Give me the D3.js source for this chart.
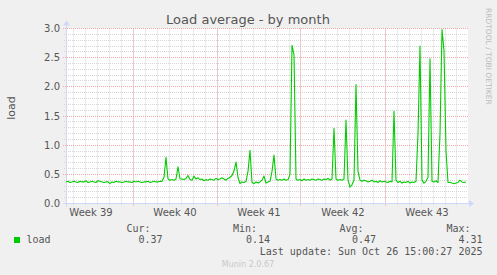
<!DOCTYPE html>
<html>
<head>
<meta charset="utf-8">
<script src="https://cdn.jsdelivr.net/npm/d3@7"></script>
<style>
  body { margin: 0; background: #f0f0f0; }
  svg { display: block; font-family: "DejaVu Sans", sans-serif; }
  .mono { font-family: "DejaVu Sans Mono", monospace; }
</style>
</head>
<body>
<svg></svg>
<script>
// chart data
const title = 'Load average - by month'
const yLabel = 'load'
const yTicks = [0.0, 0.5, 1.0, 1.5, 2.0, 2.5, 3.0]
const weekLabels = ['Week 39', 'Week 40', 'Week 41', 'Week 42', 'Week 43']
const weekStarts = ['2025-09-22', '2025-09-29', '2025-10-06', '2025-10-13', '2025-10-20']
const timeStart = new Date('2025-09-23T10:00:00Z')
const timeEnd = new Date('2025-10-26T22:00:00Z')
const sampleHours = 4

// load average, one value every 4 hours
const loadValues = [
  0.37, 0.38, 0.36, 0.37, 0.38, 0.37, 0.36, 0.38, 0.37, 0.37,
  0.39, 0.36, 0.37, 0.38, 0.37, 0.36, 0.39, 0.38, 0.37, 0.36,
  0.37, 0.37, 0.34, 0.37, 0.36, 0.38, 0.37, 0.37, 0.36, 0.37,
  0.38, 0.37, 0.37, 0.36, 0.38, 0.37, 0.38, 0.37, 0.36, 0.37,
  0.37, 0.38, 0.36, 0.37, 0.38, 0.37, 0.37, 0.38, 0.38,
  0.45, 0.79, 0.42, 0.40, 0.41, 0.40, 0.42, 0.63, 0.42, 0.42,
  0.41, 0.43, 0.48, 0.41, 0.40, 0.47, 0.42, 0.44, 0.41, 0.42,
  0.39, 0.41, 0.40, 0.42, 0.41, 0.40, 0.43, 0.41, 0.42, 0.44,
  0.42, 0.40, 0.43, 0.45, 0.48, 0.56, 0.71, 0.45, 0.34, 0.37,
  0.36, 0.38, 0.55, 0.91, 0.36, 0.34, 0.37, 0.35, 0.37, 0.40,
  0.47, 0.35, 0.37, 0.38, 0.55, 0.83, 0.42, 0.40, 0.41, 0.40,
  0.42, 0.40, 0.41, 0.50, 2.71, 2.55, 0.42, 0.40, 0.41, 0.39,
  0.42, 0.40, 0.41, 0.40, 0.42, 0.41, 0.40, 0.42, 0.41, 0.40,
  0.42, 0.41, 0.43, 0.40, 0.42, 1.29, 0.42, 0.40, 0.41, 0.40,
  0.42, 1.43, 0.40, 0.28, 0.32, 0.40, 2.04, 0.55, 0.40, 0.38,
  0.40, 0.39, 0.37, 0.38, 0.40, 0.37, 0.38, 0.36, 0.39, 0.37,
  0.38, 0.37, 0.36, 0.38, 0.37, 1.58, 0.40, 0.36, 0.38, 0.35,
  0.37, 0.36, 0.38, 0.35, 0.37, 0.36, 0.38, 1.20, 2.70, 0.40,
  0.35, 0.38, 0.45, 2.48, 0.38, 0.37, 0.39, 0.36, 1.20, 2.98,
  2.62, 0.90, 0.36, 0.36, 0.35, 0.34, 0.35, 0.36, 0.40, 0.37,
  0.36, 0.37
]

const legendName = 'load'
const legendHeads = ['Cur:', 'Min:', 'Avg:', 'Max:']
const legendValues = ['0.37', '0.14', '0.47', '4.31']
const lastUpdate = 'Last update: Sun Oct 26 15:00:27 2025'
const footer = 'Munin 2.0.67'
const sideText = 'RRDTOOL / TOBI OETIKER'

// layout
const width = 497
const height = 275
const plotLeft = 66
const plotRight = 468
const plotTop = 28.5
const plotBottom = 203.5

const lineColor = '#00cc00'
const axisColor = '#cfd6f8'
const gridColor = '#d6d6d6'
const majorColor = '#f0a8a8'
const textColor = '#555'

let svg = d3.select('svg').attr('width', width).attr('height', height)

let xScale = d3.scaleUtc().domain([timeStart, timeEnd]).range([plotLeft, plotRight])
let yScale = d3.scaleLinear().domain([0, 3]).range([plotBottom, plotTop])

let data = loadValues.map((v, i) => ({
    time: new Date(timeStart.getTime() + i * sampleHours * 3600 * 1000),
    value: v
}))

function crisp(x) {
    return Math.round(x - 0.5) + 0.5
}

function drawCanvas() {
    svg.append('rect')
        .attr('x', plotLeft)
        .attr('y', plotTop)
        .attr('width', plotRight - plotLeft)
        .attr('height', plotBottom - plotTop)
        .attr('fill', '#fff')
}

function drawGrid() {
    let g = svg.append('g')

    // minor horizontal lines every 0.1
    let minorY = d3.range(1, 30).filter(k => k % 5 !== 0).map(k => k / 10)
    g.selectAll('.hminor')
        .data(minorY)
        .enter()
        .append('line')
        .attr('x1', plotLeft - 2).attr('x2', plotRight)
        .attr('y1', d => crisp(yScale(d))).attr('y2', d => crisp(yScale(d)))
        .attr('stroke', gridColor)
        .attr('stroke-dasharray', '1,1')

    // minor vertical lines, one per day
    let days = d3.utcDay.range(timeStart, timeEnd)
    g.selectAll('.vminor')
        .data(days)
        .enter()
        .append('line')
        .attr('x1', d => crisp(xScale(d))).attr('x2', d => crisp(xScale(d)))
        .attr('y1', plotTop).attr('y2', plotBottom + 2)
        .attr('stroke', gridColor)
        .attr('stroke-dasharray', '1,1')

    // major lines
    g.selectAll('.hmajor')
        .data(yTicks.filter(d => d > 0))
        .enter()
        .append('line')
        .attr('x1', plotLeft - 3).attr('x2', plotRight)
        .attr('y1', d => crisp(yScale(d))).attr('y2', d => crisp(yScale(d)))
        .attr('stroke', majorColor)
        .attr('stroke-dasharray', '1,1')

    let mondays = d3.utcMonday.range(timeStart, timeEnd)
    g.selectAll('.vmajor')
        .data(mondays)
        .enter()
        .append('line')
        .attr('x1', d => crisp(xScale(d))).attr('x2', d => crisp(xScale(d)))
        .attr('y1', plotTop).attr('y2', plotBottom + 3)
        .attr('stroke', majorColor)
        .attr('stroke-dasharray', '1,1')
}

function drawAxes() {
    let g = svg.append('g')

    g.append('line')
        .attr('x1', plotLeft - 3).attr('x2', plotRight + 1)
        .attr('y1', plotBottom).attr('y2', plotBottom)
        .attr('stroke', axisColor)
    g.append('path')
        .attr('d', `M${plotRight + 1},${plotBottom - 3.5} L${plotRight + 6},${plotBottom} L${plotRight + 1},${plotBottom + 3.5} Z`)
        .attr('fill', axisColor)

    g.append('line')
        .attr('x1', plotLeft + 0.5).attr('x2', plotLeft + 0.5)
        .attr('y1', plotBottom + 3).attr('y2', plotTop - 3)
        .attr('stroke', axisColor)
    g.append('path')
        .attr('d', `M${plotLeft - 3},${plotTop - 3} L${plotLeft + 0.5},${plotTop - 8} L${plotLeft + 4},${plotTop - 3} Z`)
        .attr('fill', axisColor)

    // y tick labels
    g.selectAll('.ylab')
        .data(yTicks)
        .enter()
        .append('text')
        .attr('x', 60)
        .attr('y', d => yScale(d) + 3.5)
        .attr('text-anchor', 'end')
        .attr('font-size', 10)
        .attr('fill', textColor)
        .text(d => d3.format('.1f')(d))

    // week labels, centred in their week
    g.selectAll('.xlab')
        .data(weekLabels)
        .enter()
        .append('text')
        .attr('x', (d, i) => xScale(d3.utcHour.offset(new Date(weekStarts[i] + 'T00:00:00Z'), 84)))
        .attr('y', 216)
        .attr('text-anchor', 'middle')
        .attr('font-size', 10)
        .attr('fill', textColor)
        .text(d => d)
}

function drawLine() {
    let line = d3.line()
        .x(d => xScale(d.time))
        .y(d => yScale(d.value))

    svg.append('path')
        .datum(data)
        .attr('d', line)
        .attr('fill', 'none')
        .attr('stroke', lineColor)
        .attr('stroke-width', 1.1)
        .attr('stroke-linejoin', 'round')
}

function drawTexts() {
    svg.append('text')
        .attr('x', 248).attr('y', 24)
        .attr('text-anchor', 'middle')
        .attr('font-size', 13)
        .attr('fill', textColor)
        .text(title)

    svg.append('text')
        .attr('transform', 'translate(15,108) rotate(-90)')
        .attr('text-anchor', 'middle')
        .attr('font-size', 11)
        .attr('fill', textColor)
        .text(yLabel)

    svg.append('text')
        .attr('transform', 'translate(486,8) rotate(90)')
        .attr('font-size', 7.5)
        .attr('fill', '#bbb')
        .text(sideText)

    // legend
    svg.append('rect')
        .attr('x', 14).attr('y', 237)
        .attr('width', 6).attr('height', 6)
        .attr('fill', lineColor)

    svg.append('text')
        .attr('class', 'mono')
        .attr('x', 26.5).attr('y', 243)
        .attr('font-size', 10)
        .attr('fill', textColor)
        .text(legendName)

    let headEnds = [150.5, 257, 363.5, 470.5]
    let valueEnds = [162.5, 270, 376, 482.5]
    svg.selectAll('.lhead')
        .data(legendHeads)
        .enter()
        .append('text')
        .attr('class', 'mono')
        .attr('x', (d, i) => headEnds[i]).attr('y', 231.5)
        .attr('text-anchor', 'end')
        .attr('font-size', 10)
        .attr('fill', textColor)
        .text(d => d)

    svg.selectAll('.lval')
        .data(legendValues)
        .enter()
        .append('text')
        .attr('class', 'mono')
        .attr('x', (d, i) => valueEnds[i]).attr('y', 243)
        .attr('text-anchor', 'end')
        .attr('font-size', 10)
        .attr('fill', textColor)
        .text(d => d)

    svg.append('text')
        .attr('class', 'mono')
        .attr('x', 482.5).attr('y', 254.5)
        .attr('text-anchor', 'end')
        .attr('font-size', 10)
        .attr('fill', textColor)
        .text(lastUpdate)

    svg.append('text')
        .attr('x', 248).attr('y', 267)
        .attr('text-anchor', 'middle')
        .attr('font-size', 8)
        .attr('fill', '#c8c8c8')
        .text(footer)
}

drawCanvas()
drawGrid()
drawAxes()
drawLine()
drawTexts()
</script>
</body>
</html>
